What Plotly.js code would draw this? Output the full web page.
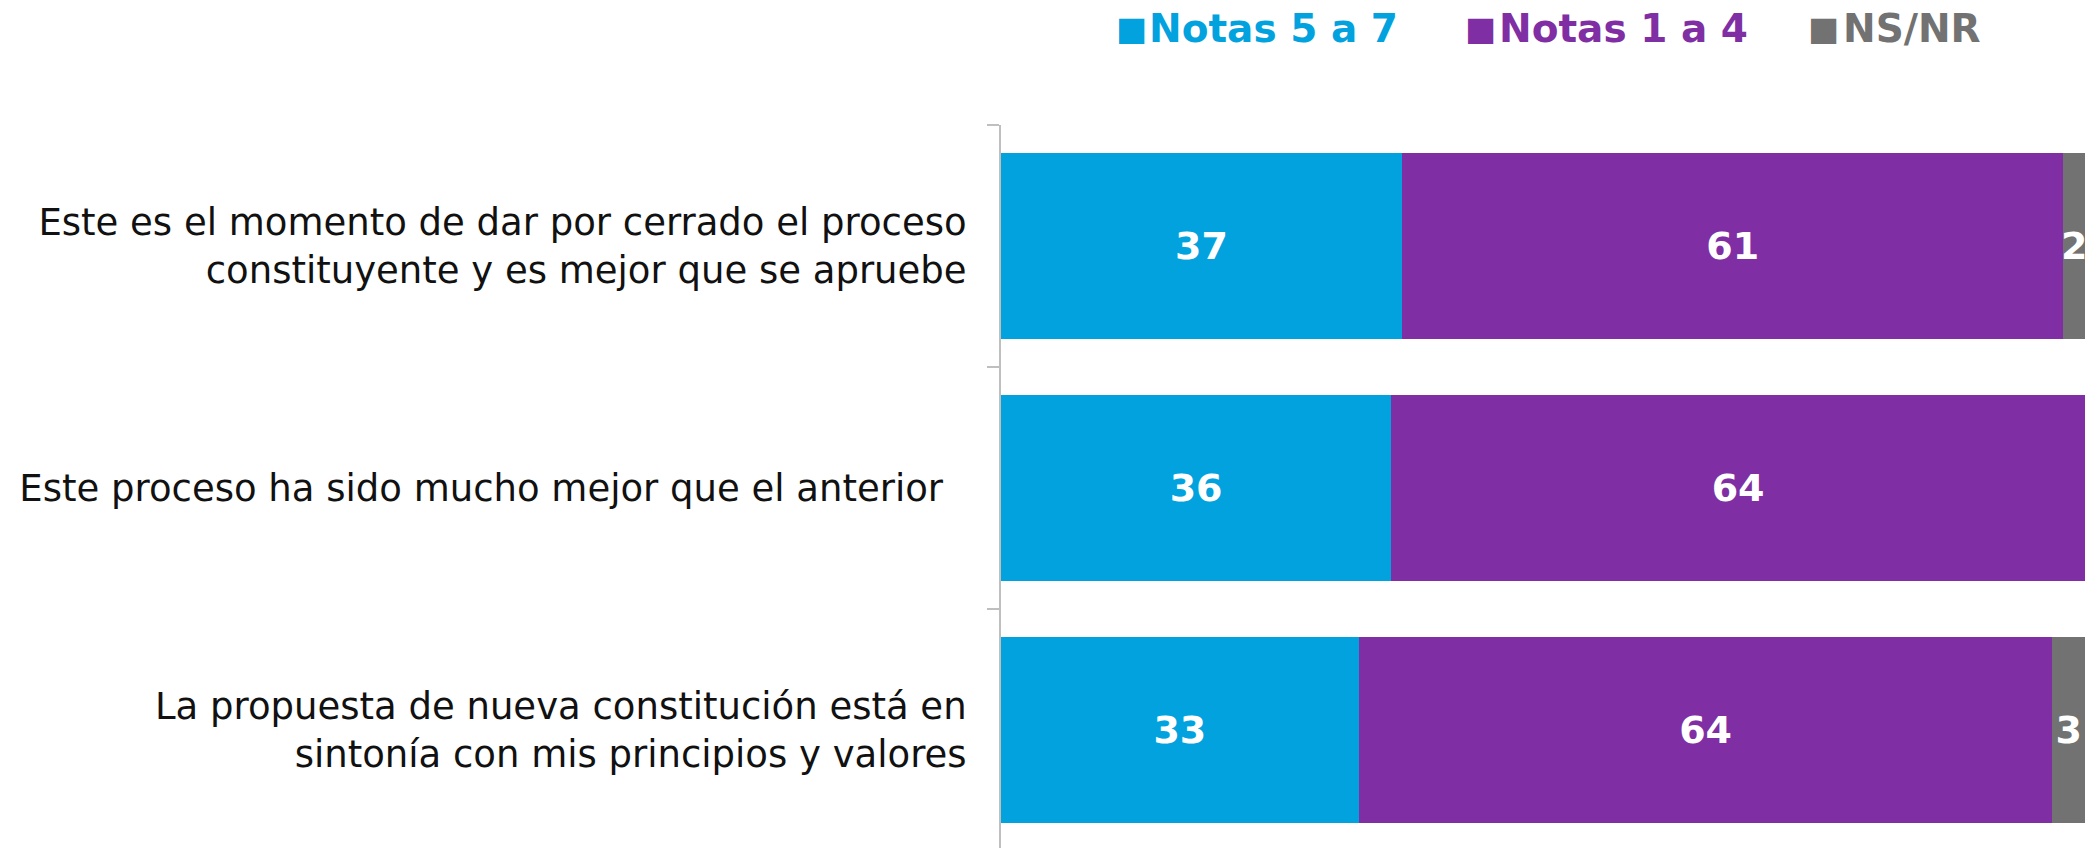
<!DOCTYPE html>
<html>
<head>
<meta charset="utf-8">
<script src="https://cdn.plot.ly/plotly-3.0.1.min.js"></script>
<style>
  html, body { margin: 0; padding: 0; background: #ffffff; }
  #chart { width: 2093px; height: 848px; }
</style>
</head>
<body>
<div id="chart"></div>
<script>
// ---- data ----
const categories = [
  "Este es el momento de dar por cerrado el proceso<br>constituyente y es mejor que se apruebe",
  "Este proceso ha sido mucho mejor que el anterior\u00a0\u00a0",
  "La propuesta de nueva constitución está en<br>sintonía con mis principios y valores"
];
const seriesNames = ["Notas 5 a 7", "Notas 1 a 4", "NS/NR"];
const notas5a7 = [37, 36, 33];
const notas1a4 = [61, 64, 64];
const nsnr = [2, 0, 3];
const seriesColors = ["#02a2df", "#7f2fa3", "#717271"];

// ---- build ----
const seriesValues = [notas5a7, notas1a4, nsnr];
const FONT = "DejaVu Sans, sans-serif";

const traces = seriesValues.map((vals, i) => ({
  type: "bar",
  orientation: "h",
  name: seriesNames[i],
  x: vals,
  y: categories,
  marker: { color: seriesColors[i], line: { width: 0 } },
  text: vals.map(v => v > 0 ? String(v) : ""),
  textposition: "inside",
  insidetextanchor: "middle",
  textangle: 0,
  constraintext: "none",
  textfont: { family: FONT, size: 38, color: "#ffffff", weight: "bold" },
  hoverinfo: "skip",
  showlegend: false
}));

// legend drawn as annotations built from series names/colours
const legendSquareX = [0.1052, 0.4271, 0.7435];
const legendTextX = [0.1356, 0.4585, 0.7758];
const legendY = 1.134;
const annotations = [];
seriesNames.forEach((n, i) => {
  annotations.push({
    xref: "paper", yref: "paper",
    x: legendSquareX[i], y: legendY,
    xanchor: "left", yanchor: "middle",
    showarrow: false, borderpad: 0,
    text: "■",
    font: { family: FONT, size: 33, color: seriesColors[i] }
  });
  annotations.push({
    xref: "paper", yref: "paper",
    x: legendTextX[i], y: legendY,
    xanchor: "left", yanchor: "middle",
    showarrow: false, borderpad: 0,
    text: "<b>" + n + "</b>",
    font: { family: FONT, size: 39, color: seriesColors[i] }
  });
});

const layout = {
  width: 2093,
  height: 848,
  margin: { l: 1001, r: 8, t: 125, b: 0, pad: 0 },
  paper_bgcolor: "#ffffff",
  plot_bgcolor: "#ffffff",
  barmode: "stack",
  bargap: 0.2314,
  showlegend: false,
  xaxis: {
    range: [0, 100],
    visible: false,
    fixedrange: true
  },
  yaxis: {
    type: "category",
    range: [2.4876, -0.5],
    showline: true,
    linecolor: "#bfbfbf",
    linewidth: 2,
    ticks: "outside",
    tickson: "boundaries",
    ticklen: 12,
    tickwidth: 2,
    tickcolor: "#bfbfbf",
    showgrid: false,
    zeroline: false,
    automargin: false,
    ticklabelstandoff: 25,
    tickfont: { family: FONT, size: 37, color: "#111111" },
    fixedrange: true
  },
  annotations: annotations
};

Plotly.newPlot("chart", traces, layout, { staticPlot: true, displayModeBar: false });
</script>
</body>
</html>
